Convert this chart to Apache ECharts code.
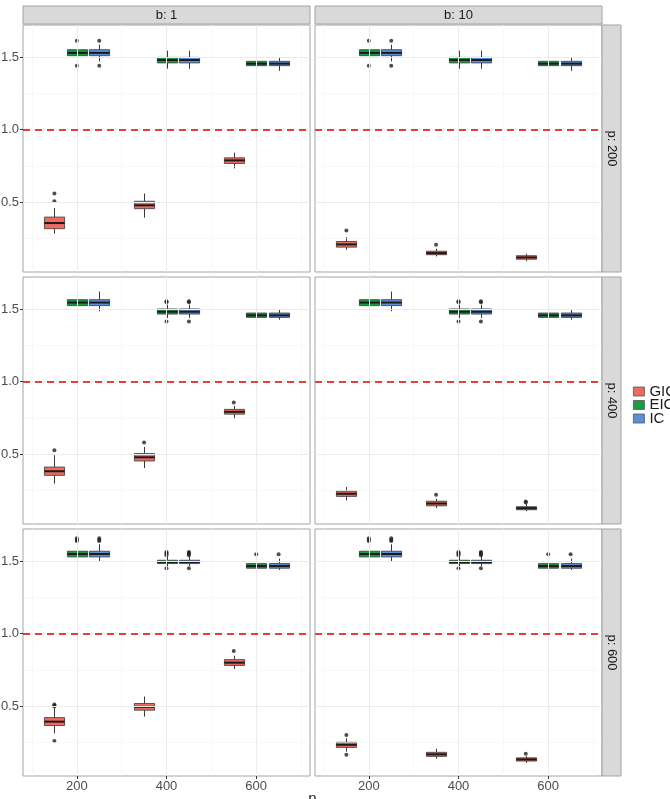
<!DOCTYPE html>
<html>
<head>
<meta charset="utf-8">
<script src="https://cdn.jsdelivr.net/npm/echarts@6/dist/echarts.min.js"></script>
<style>
  html, body { margin: 0; padding: 0; background: #fff; }
  #chart { width: 670px; height: 799px; }
</style>
</head>
<body>
<div id="chart"></div>
<script>
const FONT = '"Liberation Sans", Arial, sans-serif'

// facet labels and x positions
const nValues = [200, 400, 600]
const bLabels = ['b: 1', 'b: 10']
const pLabels = ['p: 200', 'p: 400', 'p: 600']
const methods = ['GIC', 'EIC', 'IC']
const methodColor = { GIC: '#EE6B62', EIC: '#1C9A45', IC: '#5B8FD9' }
const methodShift = { GIC: -50, EIC: 0, IC: 50 }

// each box: [lower whisker, Q1, median, Q3, upper whisker], one row per n
const gic_b1_p200 = [[0.284, 0.318, 0.357, 0.398, 0.460], [0.394, 0.456, 0.479, 0.507, 0.560], [0.733, 0.767, 0.788, 0.806, 0.841]]
const gic_b1_p400 = [[0.298, 0.355, 0.383, 0.412, 0.493], [0.405, 0.454, 0.479, 0.505, 0.550], [0.747, 0.776, 0.792, 0.809, 0.832]]
const gic_b1_p600 = [[0.314, 0.367, 0.394, 0.422, 0.487], [0.429, 0.473, 0.496, 0.519, 0.567], [0.756, 0.781, 0.800, 0.821, 0.848]]
const gic_b10_p200 = [[0.173, 0.191, 0.210, 0.230, 0.260], [0.127, 0.139, 0.150, 0.163, 0.180], [0.094, 0.108, 0.120, 0.132, 0.146]]
const gic_b10_p400 = [[0.182, 0.210, 0.228, 0.246, 0.274], [0.129, 0.145, 0.161, 0.177, 0.194], [0.108, 0.118, 0.129, 0.139, 0.159]]
const gic_b10_p600 = [[0.187, 0.217, 0.235, 0.252, 0.280], [0.139, 0.155, 0.169, 0.183, 0.208], [0.111, 0.123, 0.134, 0.145, 0.157]]

// outlying points, one list per n
const gicOut_b1_p200 = [[0.560, 0.507], [], []]
const gicOut_b1_p400 = [[0.528], [0.581], [0.857]]
const gicOut_b1_p600 = [[0.512, 0.505, 0.498, 0.261], [], [0.881]]
const gicOut_b10_p200 = [[0.306], [0.208], []]
const gicOut_b10_p400 = [[], [0.221], [0.175, 0.168]]
const gicOut_b10_p600 = [[0.302, 0.166], [], [0.173]]

// EIC does not change with b
const eic_p200 = [[1.470, 1.509, 1.528, 1.550, 1.585], [1.419, 1.459, 1.479, 1.497, 1.544], [1.405, 1.440, 1.454, 1.470, 1.497]]
const eic_p400 = [[1.484, 1.523, 1.544, 1.564, 1.620], [1.438, 1.465, 1.481, 1.500, 1.530], [1.426, 1.442, 1.456, 1.472, 1.495]]
const eic_p600 = [[1.493, 1.528, 1.548, 1.567, 1.615], [1.465, 1.482, 1.493, 1.505, 1.530], [1.438, 1.450, 1.465, 1.482, 1.517]]
const eicOut_p200 = [[1.611, 1.440], [], []]
const eicOut_p400 = [[], [1.553, 1.547, 1.414], []]
const eicOut_p600 = [[1.657, 1.645, 1.638], [1.562, 1.555, 1.548, 1.540, 1.450], [1.546]]

// IC boxes look the same as EIC in every panel
const ic_p200 = [[1.470, 1.509, 1.528, 1.550, 1.585], [1.419, 1.459, 1.479, 1.497, 1.544], [1.405, 1.440, 1.454, 1.470, 1.497]]
const ic_p400 = [[1.484, 1.523, 1.544, 1.564, 1.620], [1.438, 1.465, 1.481, 1.500, 1.530], [1.426, 1.442, 1.456, 1.472, 1.495]]
const ic_p600 = [[1.493, 1.528, 1.548, 1.567, 1.615], [1.465, 1.482, 1.493, 1.505, 1.530], [1.438, 1.450, 1.465, 1.482, 1.517]]
const icOut_p200 = [[1.611, 1.440], [], []]
const icOut_p400 = [[], [1.553, 1.547, 1.414], []]
const icOut_p600 = [[1.657, 1.645, 1.638], [1.562, 1.555, 1.548, 1.540, 1.450], [1.546]]

// panel table: row = p, col = b
const panels = [
  { row: 0, col: 0, GIC: [gic_b1_p200, gicOut_b1_p200], EIC: [eic_p200, eicOut_p200], IC: [ic_p200, icOut_p200] },
  { row: 0, col: 1, GIC: [gic_b10_p200, gicOut_b10_p200], EIC: [eic_p200, eicOut_p200], IC: [ic_p200, icOut_p200] },
  { row: 1, col: 0, GIC: [gic_b1_p400, gicOut_b1_p400], EIC: [eic_p400, eicOut_p400], IC: [ic_p400, icOut_p400] },
  { row: 1, col: 1, GIC: [gic_b10_p400, gicOut_b10_p400], EIC: [eic_p400, eicOut_p400], IC: [ic_p400, icOut_p400] },
  { row: 2, col: 0, GIC: [gic_b1_p600, gicOut_b1_p600], EIC: [eic_p600, eicOut_p600], IC: [ic_p600, icOut_p600] },
  { row: 2, col: 1, GIC: [gic_b10_p600, gicOut_b10_p600], EIC: [eic_p600, eicOut_p600], IC: [ic_p600, icOut_p600] }
]

// layout
const colLeft = [23, 315]
const colW = 287
const rowTop = [25, 277, 529]
const rowH = 247
const stripSize = 19
const boxWidth = 45
const border = '#A3A3A3'

function renderBox(params, api) {
  const x = api.value(0)
  const half = api.size([boxWidth, 0])[0] / 2
  const cx = Math.round(api.coord([x, api.value(1)])[0]) + 0.5
  const yLo = api.coord([x, api.value(1)])[1]
  const yQ1 = api.coord([x, api.value(2)])[1]
  const yMed = api.coord([x, api.value(3)])[1]
  const yQ3 = api.coord([x, api.value(4)])[1]
  const yHi = api.coord([x, api.value(5)])[1]
  const stroke = '#383838'
  return {
    type: 'group',
    children: [
      { type: 'line', shape: { x1: cx, y1: yHi, x2: cx, y2: yQ3 }, style: { stroke, lineWidth: 1 } },
      { type: 'line', shape: { x1: cx, y1: yQ1, x2: cx, y2: yLo }, style: { stroke, lineWidth: 1 } },
      { type: 'rect', shape: { x: cx - half, y: yQ3, width: half * 2, height: Math.max(yQ1 - yQ3, 1) },
        style: { fill: api.visual('color'), stroke, lineWidth: 0.8 } },
      { type: 'line', shape: { x1: cx - half, y1: yMed, x2: cx + half, y2: yMed }, style: { stroke: '#1A1A1A', lineWidth: 2 } }
    ]
  }
}

const grids = []
const xAxes = []
const yAxes = []
const series = []
const graphics = []

panels.forEach((pn, i) => {
  const bottomRow = pn.row === 2
  const leftCol = pn.col === 0
  grids.push({
    left: colLeft[pn.col], top: rowTop[pn.row], width: colW, height: rowH,
    show: true, borderColor: border, borderWidth: 1, backgroundColor: '#fff',
    outerBoundsMode: 'none'
  })
  xAxes.push({
    type: 'value', gridIndex: i, min: 80, max: 720,
    axisLine: { show: false },
    splitLine: { show: false },
    axisTick: { show: bottomRow, customValues: nValues, length: 3, lineStyle: { color: '#333' } },
    axisLabel: { show: bottomRow, customValues: nValues, margin: 4, color: '#4D4D4D', fontSize: 13, fontFamily: FONT }
  })
  yAxes.push({
    type: 'value', gridIndex: i, min: 0.02, max: 1.72,
    axisLine: { show: false },
    splitLine: { show: false },
    axisTick: { show: leftCol, customValues: [0.5, 1.0, 1.5], length: 3, lineStyle: { color: '#333' } },
    axisLabel: { show: leftCol, customValues: [0.5, 1.0, 1.5], margin: 4, color: '#4D4D4D', fontSize: 13, fontFamily: FONT,
      formatter: v => v.toFixed(1) }
  })

  // grid lines and the reference line at 1
  const minor = { color: '#F3F3F3', width: 0.6, type: 'solid' }
  const major = { color: '#EBEBEB', width: 1, type: 'solid' }
  const lines = []
  ;[100, 300, 500, 700].forEach(v => lines.push({ xAxis: v, lineStyle: minor }))
  nValues.forEach(v => lines.push({ xAxis: v, lineStyle: major }))
  ;[0.25, 0.75, 1.25].forEach(v => lines.push({ yAxis: v, lineStyle: minor }))
  ;[0.5, 1.0, 1.5].forEach(v => lines.push({ yAxis: v, lineStyle: major }))
  lines.push({ yAxis: 1.0, lineStyle: { color: '#E2413A', width: 2.2, type: [7, 5] } })
  series.push({
    type: 'line', xAxisIndex: i, yAxisIndex: i, data: [], silent: true, z: 1,
    markLine: { silent: true, symbol: ['none', 'none'], label: { show: false }, animation: false, data: lines }
  })

  methods.forEach(m => {
    const [stats, outs] = pn[m]
    series.push({
      name: m, type: 'custom', xAxisIndex: i, yAxisIndex: i, z: 3,
      itemStyle: { color: methodColor[m] },
      encode: { x: 0, y: [1, 2, 3, 4, 5] },
      renderItem: renderBox,
      data: stats.map((s, k) => [nValues[k] + methodShift[m]].concat(s))
    })
    const pts = []
    outs.forEach((list, k) => list.forEach(v => pts.push([nValues[k] + methodShift[m], v])))
    series.push({
      name: m + ' outliers', type: 'scatter', xAxisIndex: i, yAxisIndex: i, z: 4,
      symbolSize: 4, itemStyle: { color: '#222' }, data: pts, silent: true
    })
  })
})

// facet strips
bLabels.forEach((t, c) => {
  graphics.push({ type: 'rect', shape: { x: colLeft[c], y: rowTop[0] - stripSize, width: colW, height: stripSize - 1 },
    style: { fill: '#D9D9D9', stroke: border, lineWidth: 1 } })
  graphics.push({ type: 'text', x: colLeft[c] + colW / 2, y: rowTop[0] - stripSize / 2 - 0.5,
    style: { text: t, fill: '#1A1A1A', font: '13px ' + FONT, align: 'center', verticalAlign: 'middle' } })
})
pLabels.forEach((t, r) => {
  const sx = colLeft[1] + colW
  graphics.push({ type: 'rect', shape: { x: sx, y: rowTop[r], width: stripSize, height: rowH },
    style: { fill: '#D9D9D9', stroke: border, lineWidth: 1 } })
  graphics.push({ type: 'text', x: sx + stripSize / 2 + 0.5, y: rowTop[r] + rowH / 2, rotation: -Math.PI / 2,
    style: { text: t, fill: '#1A1A1A', font: '13px ' + FONT, align: 'center', verticalAlign: 'middle' } })
})
// x axis title, mostly below the window edge
graphics.push({ type: 'text', x: (colLeft[0] + colLeft[1] + colW) / 2, y: 791,
  style: { text: 'n', fill: '#1A1A1A', font: '15px ' + FONT, align: 'center', verticalAlign: 'top' } })

const chart = echarts.init(document.getElementById('chart'), null, { renderer: 'canvas' })
chart.setOption({
  animation: false,
  backgroundColor: '#fff',
  grid: grids,
  xAxis: xAxes,
  yAxis: yAxes,
  legend: {
    data: methods.map(m => ({ name: m, itemStyle: { color: methodColor[m], borderColor: '#555', borderWidth: 0.8 } })),
    orient: 'vertical', left: 633, top: 384, icon: 'rect', padding: 0,
    itemWidth: 11, itemHeight: 9, itemGap: -1.5,
    textStyle: { color: '#1A1A1A', fontSize: 15, lineHeight: 13, fontFamily: FONT },
    selectedMode: false
  },
  graphic: graphics,
  series: series
})
</script>
</body>
</html>
